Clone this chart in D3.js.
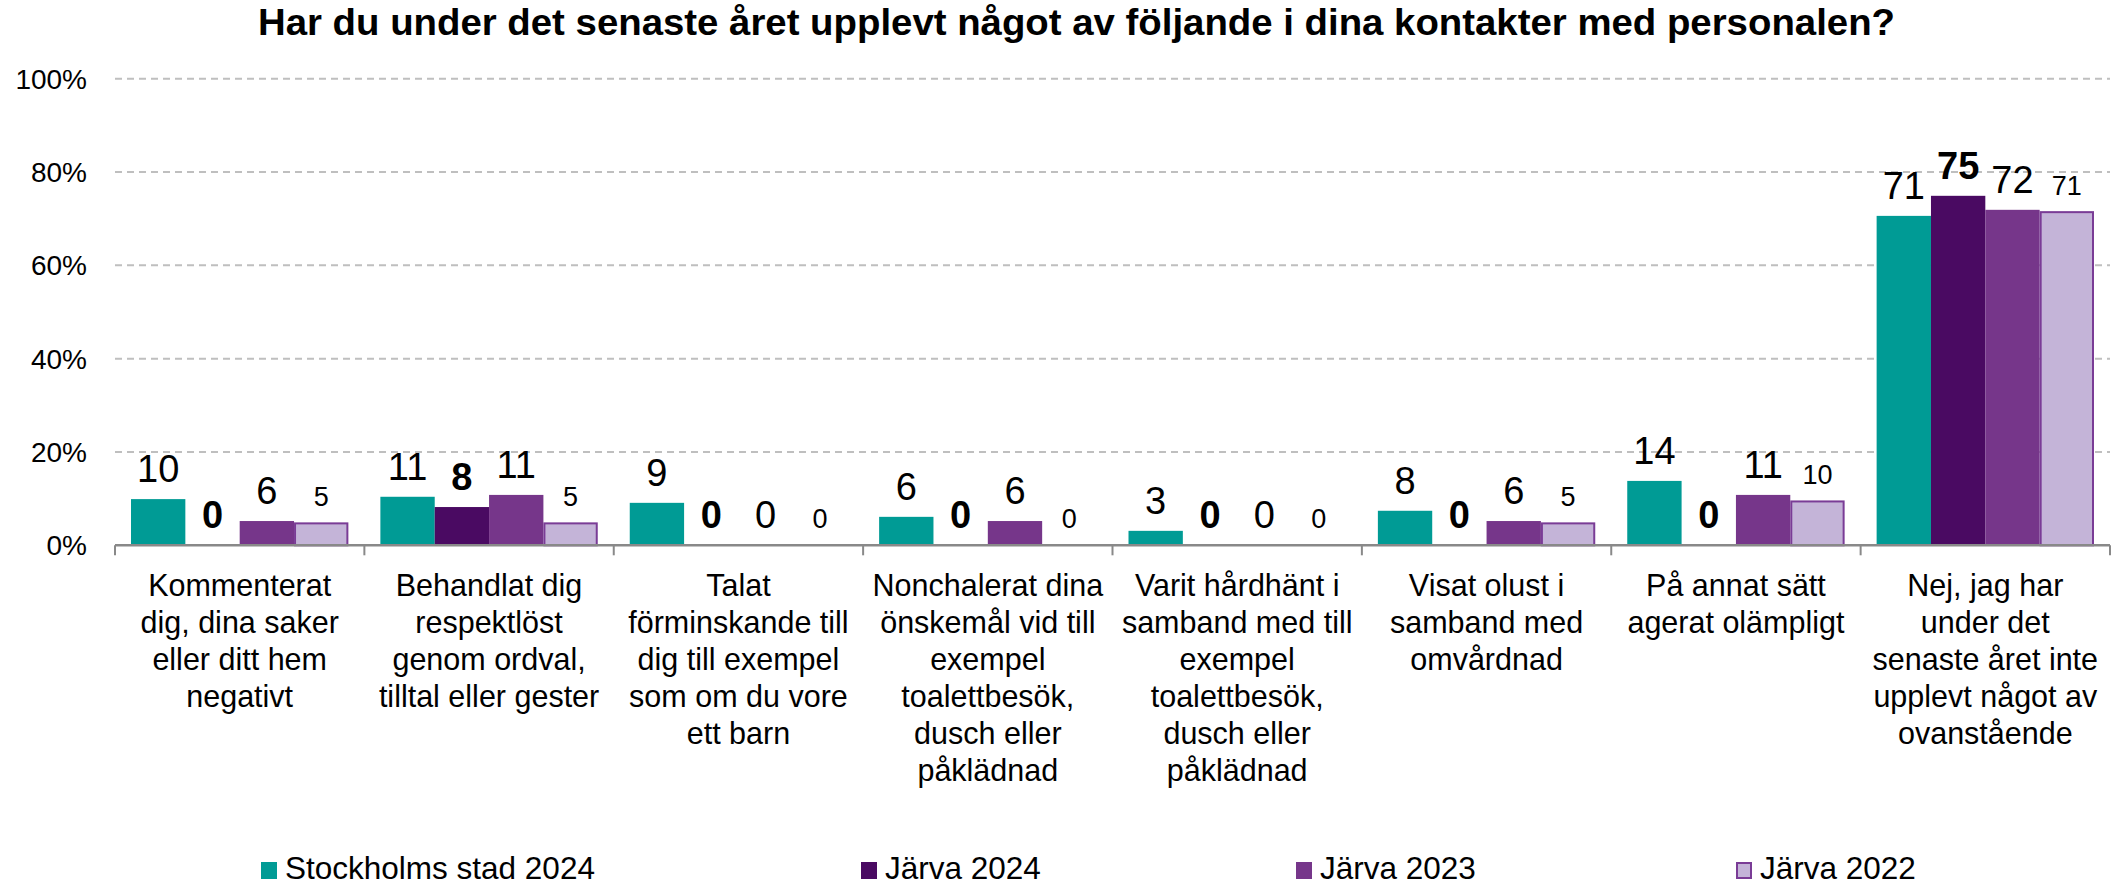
<!DOCTYPE html>
<html>
<head>
<meta charset="utf-8">
<script src="https://cdn.jsdelivr.net/npm/d3@7"></script>
<style>
  body { margin: 0; background: #fff; }
  svg { display: block; font-family: Arial, "Liberation Sans", sans-serif; }
</style>
</head>
<body>
<script>
// data
const categories = [
  ["Kommenterat", "dig, dina saker", "eller ditt hem", "negativt"],
  ["Behandlat dig", "respektlöst", "genom ordval,", "tilltal eller gester"],
  ["Talat", "förminskande till", "dig till exempel", "som om du vore", "ett barn"],
  ["Nonchalerat dina", "önskemål vid till", "exempel", "toalettbesök,", "dusch eller", "påklädnad"],
  ["Varit hårdhänt i", "samband med till", "exempel", "toalettbesök,", "dusch eller", "påklädnad"],
  ["Visat olust i", "samband med", "omvårdnad"],
  ["På annat sätt", "agerat olämpligt"],
  ["Nej, jag har", "under det", "senaste året inte", "upplevt något av", "ovanstående"]
];
const seriesNames = ["Stockholms stad 2024", "Järva 2024", "Järva 2023", "Järva 2022"];
const stockholm2024 = [9.9, 10.4, 9.1, 6.1, 3.1, 7.4, 13.8, 70.6];
const jarva2024 = [0, 8.2, 0, 0, 0, 0, 0, 74.9];
const jarva2023 = [5.2, 10.8, 0, 5.2, 0, 5.2, 10.8, 71.9];
const jarva2022 = [4.7, 4.7, 0, 0, 0, 4.7, 9.4, 71.4];
// printed labels
const labStockholm2024 = [10, 11, 9, 6, 3, 8, 14, 71];
const labJarva2024 = [0, 8, 0, 0, 0, 0, 0, 75];
const labJarva2023 = [6, 11, 0, 6, 0, 6, 11, 72];
const labJarva2022 = [5, 5, 0, 0, 0, 5, 10, 71];
const yTicks = [0, 20, 40, 60, 80, 100];

const series = [
  { name: seriesNames[0], values: stockholm2024, labels: labStockholm2024, fill: "#009b95", stroke: null, size: 38, weight: "normal" },
  { name: seriesNames[1], values: jarva2024, labels: labJarva2024, fill: "#4a0a62", stroke: null, size: 38, weight: "bold" },
  { name: seriesNames[2], values: jarva2023, labels: labJarva2023, fill: "#76368a", stroke: null, size: 38, weight: "normal" },
  { name: seriesNames[3], values: jarva2022, labels: labJarva2022, fill: "#c4b4d8", stroke: "#7a3c96", size: 27, weight: "normal" }
];

const W = 2121, H = 885;
const plotLeft = 115, plotRight = 2110, plotTop = 78.7, plotBottom = 545.3;

const svg = d3.select("body").append("svg")
  .attr("width", W).attr("height", H);

const x = d3.scaleBand().domain(d3.range(categories.length)).range([plotLeft, plotRight]);
const xs = d3.scaleBand().domain(d3.range(series.length)).range([16, x.bandwidth() - 16]);
const y = d3.scaleLinear().domain([0, 100]).range([plotBottom, plotTop]);

// title
svg.append("text")
  .attr("x", 258).attr("y", 35)
  .attr("textLength", 1637).attr("lengthAdjust", "spacingAndGlyphs")
  .style("font-size", "36px").style("font-weight", "bold")
  .text("Har du under det senaste året upplevt något av följande i dina kontakter med personalen?");

// grid
svg.selectAll(".grid")
  .data(yTicks.filter(d => d > 0))
  .enter().append("line")
  .attr("class", "grid")
  .attr("x1", plotLeft).attr("x2", plotRight)
  .attr("y1", d => y(d)).attr("y2", d => y(d))
  .attr("stroke", "#bfbfbf").attr("stroke-width", 2)
  .attr("stroke-dasharray", "7,5");

svg.selectAll(".ytick")
  .data(yTicks)
  .enter().append("text")
  .attr("class", "ytick")
  .attr("x", 87).attr("y", d => y(d) + 10)
  .attr("text-anchor", "end")
  .style("font-size", "28px")
  .text(d => d + "%");

// bars
const groups = svg.selectAll(".cat")
  .data(categories)
  .enter().append("g")
  .attr("class", "cat")
  .attr("transform", (d, i) => `translate(${x(i)},0)`);

series.forEach((s, si) => {
  groups.append("rect")
    .attr("x", xs(si) + (s.stroke ? 1 : 0))
    .attr("width", xs.bandwidth() - (s.stroke ? 2 : 0))
    .attr("y", (d, i) => y(s.values[i]))
    .attr("height", (d, i) => plotBottom - y(s.values[i]))
    .attr("fill", s.fill)
    .attr("stroke", s.stroke || "none")
    .attr("stroke-width", 2)
    .style("display", (d, i) => s.values[i] > 0 ? null : "none");

  groups.append("text")
    .attr("x", xs(si) + xs.bandwidth() / 2)
    .attr("y", (d, i) => y(s.values[i]) - 17)
    .attr("text-anchor", "middle")
    .style("font-size", s.size + "px")
    .style("font-weight", s.weight)
    .text((d, i) => s.labels[i]);
});

// axis line + ticks
svg.append("line")
  .attr("x1", plotLeft).attr("x2", plotRight)
  .attr("y1", plotBottom).attr("y2", plotBottom)
  .attr("stroke", "#898989").attr("stroke-width", 2.5);

svg.selectAll(".xtick")
  .data(d3.range(categories.length + 1))
  .enter().append("line")
  .attr("class", "xtick")
  .attr("x1", i => i < categories.length ? x(i) : plotRight)
  .attr("x2", i => i < categories.length ? x(i) : plotRight)
  .attr("y1", plotBottom).attr("y2", plotBottom + 10)
  .attr("stroke", "#898989").attr("stroke-width", 2);

// category labels
groups.append("text")
  .attr("text-anchor", "middle")
  .style("font-size", "30.5px")
  .selectAll("tspan")
  .data(d => d)
  .enter().append("tspan")
  .attr("x", x.bandwidth() / 2)
  .attr("y", (d, i) => 596 + i * 37)
  .text(d => d);

// legend
const legendX = [261, 861, 1296, 1736];
const leg = svg.selectAll(".leg")
  .data(series)
  .enter().append("g")
  .attr("class", "leg")
  .attr("transform", (d, i) => `translate(${legendX[i]},862)`);

leg.append("rect")
  .attr("x", d => d.stroke ? 1 : 0).attr("y", d => d.stroke ? 1 : 0)
  .attr("width", d => d.stroke ? 14 : 16).attr("height", d => d.stroke ? 15 : 17)
  .attr("fill", d => d.fill)
  .attr("stroke", d => d.stroke || "none").attr("stroke-width", 2);

leg.append("text")
  .attr("x", 24).attr("y", 17)
  .style("font-size", "31.5px")
  .text(d => d.name);
</script>
</body>
</html>
